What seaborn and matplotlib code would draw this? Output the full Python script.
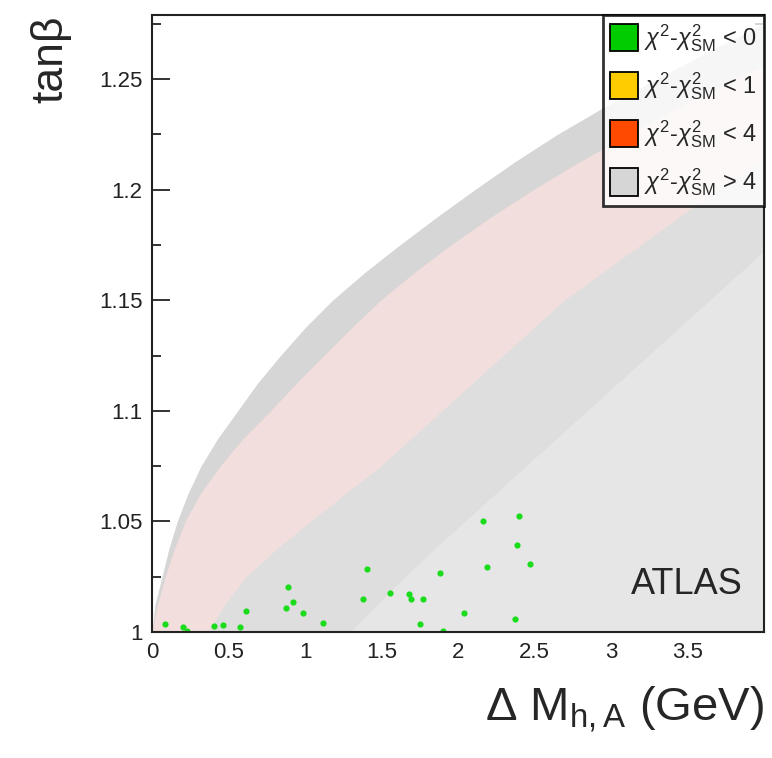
import numpy as np
import pandas as pd
import seaborn as sns
import matplotlib.pyplot as plt
from matplotlib.patches import Patch
from matplotlib.ticker import MultipleLocator

tanb_grid = [1.0, 1.0125, 1.025, 1.0375, 1.05, 1.0625, 1.075, 1.0875, 1.1, 1.1125, 1.125,
             1.1375, 1.15, 1.1625, 1.175, 1.1875, 1.2, 1.2125, 1.225, 1.2375, 1.25, 1.2625,
             1.275, 1.2875]
# left edge of the scanned (grey) region, in Delta M
gray_edge = [0.0, 0.02, 0.065, 0.11, 0.165, 0.235, 0.32, 0.43, 0.56, 0.69, 0.84,
             1.0, 1.18, 1.39, 1.62, 1.86, 2.11, 2.37, 2.65, 2.96, 3.30, 3.64,
             4.0, 4.4]
# band with chi2 - chi2_SM < 4 points mixed in (pinkish)
pink_left = [0.0, 0.04, 0.09, 0.15, 0.22, 0.32, 0.45, 0.60, 0.78, 0.95, 1.13,
             1.31, 1.50, 1.72, 1.96, 2.22, 2.50, 2.80, 3.12, 3.46, 3.82, 4.2,
             4.6, 5.0]
pink_right = [0.37, 0.48, 0.62, 0.82, 1.04, 1.27, 1.50, 1.70, 1.90, 2.10, 2.30,
              2.50, 2.70, 2.95, 3.20, 3.45, 3.70, 3.98, 4.26, 4.55, 4.85, 5.15,
              5.45, 5.75]
# denser grey band on the right of the pink one
mid_right = [1.30, 1.48, 1.66, 1.85, 2.05, 2.25, 2.45, 2.65, 2.85, 3.05, 3.25,
             3.45, 3.65, 3.85, 4.05, 4.25, 4.45, 4.65, 4.85, 5.05, 5.3, 5.55,
             5.8, 6.05]

# best points (chi2 - chi2_SM < 0)
green_dm = [0.085, 0.204, 0.230, 0.406, 0.461, 0.574, 0.615, 0.886, 0.874, 0.924,
            0.984, 1.115, 1.406, 1.382, 1.556, 1.682, 1.695, 1.769, 1.754, 1.882,
            1.899, 2.036, 2.164, 2.188, 2.373, 2.399, 2.384, 2.471]
green_tanb = [1.0037, 1.0022, 1.0006, 1.0026, 1.0034, 1.0022, 1.0094, 1.0203, 1.0109, 1.0135,
              1.0087, 1.0040, 1.0284, 1.0151, 1.0175, 1.0173, 1.0148, 1.0151, 1.0037, 1.0268,
              1.0005, 1.0085, 1.0500, 1.0296, 1.0061, 1.0523, 1.0392, 1.0306]

legend_labels = [r"$\chi^{2}$-$\chi^{2}_{\rm SM}$ < 0", r"$\chi^{2}$-$\chi^{2}_{\rm SM}$ < 1",
                 r"$\chi^{2}$-$\chi^{2}_{\rm SM}$ < 4", r"$\chi^{2}$-$\chi^{2}_{\rm SM}$ > 4"]
legend_colors = ["#00cc00", "#ffcc00", "#ff4a00", "#d6d6d6"]

sns.set_style("ticks")
plt.rcParams['font.family'] = ['Liberation Sans', 'DejaVu Sans']
plt.rcParams['mathtext.fontset'] = 'custom'
plt.rcParams['mathtext.rm'] = 'Liberation Sans'
plt.rcParams['mathtext.it'] = 'Liberation Sans:italic'

fig = plt.figure(figsize=(7.72, 7.58), dpi=100)
ax = fig.add_axes([0.197, 0.1662, 0.7926, 0.814])

x_max = 4.0
# scanned region and its sub-bands
ax.fill_betweenx(tanb_grid, gray_edge, x_max, color="#e6e6e6", lw=0, zorder=1)
ax.fill_betweenx(tanb_grid, gray_edge, pink_left, color="#d6d6d6", lw=0, zorder=2)
ax.fill_betweenx(tanb_grid, pink_right, mid_right, color="#dedede", lw=0, zorder=2)
ax.fill_betweenx(tanb_grid, pink_left, pink_right, color="#f2dedc", lw=0, zorder=3)

df = pd.DataFrame({'dm': green_dm, 'tanb': green_tanb})
sns.scatterplot(data=df, x='dm', y='tanb', color="#1bdc1b", s=20, linewidth=0, ax=ax, zorder=5)

ax.set_xlim(0, x_max)
ax.set_ylim(1.0, 1.279)
ax.xaxis.set_minor_locator(MultipleLocator(0.1))
ax.yaxis.set_minor_locator(MultipleLocator(0.025))
ax.set_xticks([0, 0.5, 1, 1.5, 2, 2.5, 3, 3.5])
ax.set_xticklabels(["0", "0.5", "1", "1.5", "2", "2.5", "3", "3.5"])
ax.set_yticks([1.0, 1.05, 1.1, 1.15, 1.2, 1.25])
ax.set_yticklabels(["1", "1.05", "1.1", "1.15", "1.2", "1.25"])
ax.tick_params(which='both', direction='in', top=False, right=True, width=1.3,
               labelsize=16, colors='#222222')
ax.tick_params(which='major', length=13, pad=7)
ax.tick_params(which='minor', length=6.5)
for s in ax.spines.values():
    s.set_linewidth(1.5)
    s.set_color('#222222')
    s.set_zorder(10)

ax.set_xlabel(r"$\Delta$ M$_{\rm h,A}$ (GeV)", fontsize=34, loc='right', labelpad=16)
ax.set_ylabel("tanβ", fontsize=32, loc='top', labelpad=20)

ax.text(3.86, 1.0215, "ATLAS", ha='right', va='center', fontsize=26, zorder=6)

handles = [Patch(facecolor=c, edgecolor='black', linewidth=1.3) for c in legend_colors]
leg = ax.legend(handles, legend_labels, loc='upper right', bbox_to_anchor=(1.0, 1.0),
                borderaxespad=0, fontsize=17, frameon=True, fancybox=False,
                handlelength=1.2, handleheight=1.4, handletextpad=0.25,
                labelspacing=0.7, borderpad=0.3)
leg.get_frame().set_edgecolor('black')
leg.get_frame().set_linewidth(2)
leg.set_zorder(20)

plt.savefig("out.png", dpi=100)
